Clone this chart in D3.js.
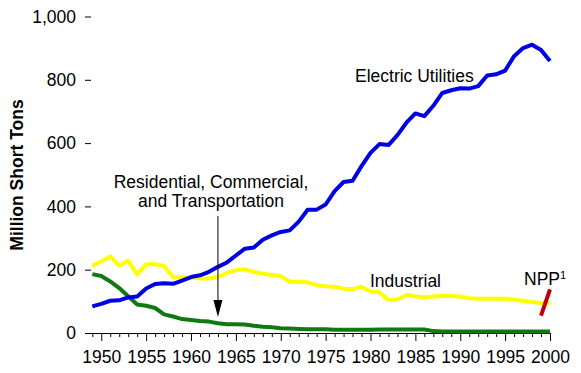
<!DOCTYPE html>
<html>
<head>
<meta charset="utf-8">
<script src="https://cdn.jsdelivr.net/npm/d3@7"></script>
<style>
  body { margin: 0; background: #fff; }
  svg { display: block; font-family: "Liberation Sans", Arial, sans-serif; }
</style>
</head>
<body>
<svg id="chart" width="581" height="373"></svg>
<script>
// years 1949 - 2000
var years = d3.range(1949, 2001);
var electric = [84, 91.9, 101.9, 103.3, 112.3, 115.2, 140.6, 154.9, 157.4, 155.3, 165.8, 176.7, 182.2, 193.2, 209.0, 223.0, 244.8, 266.5, 270.2, 294.8, 308.6, 319.2, 324.3, 351.8, 389.2, 389.8, 406.0, 448.4, 477.1, 481.2, 527.1, 569.3, 596.8, 593.7, 625.2, 664.4, 693.8, 685.1, 717.9, 758.4, 766.9, 773.5, 772.3, 779.9, 813.5, 817.3, 829.0, 874.7, 900.4, 910.9, 894.1, 859.3];
var industrial = [212, 226, 242, 213, 228, 185, 217, 217, 212, 177, 176, 175, 172, 172, 177, 190, 198, 201, 193, 187, 183, 180, 162, 162, 160, 151, 148, 146, 140, 138, 146, 131, 129, 104, 106, 120, 116, 113, 115, 118, 117, 115, 110, 108, 108, 108, 108, 105, 102, 98, 95, 95];
var rct = [186, 180, 163, 142, 116, 90, 86, 79, 59, 52, 44, 41, 38, 36, 31, 28, 28, 27, 23, 20, 18, 15, 14, 13, 12, 12, 12, 10, 10, 10, 10, 10, 11, 11, 11, 11, 11, 11, 6, 5, 5, 5, 5, 5, 5, 5, 5, 5, 5, 5, 5, 5];
var nppYears = [1999, 2000];
var npp = [55, 138];
var yTicks = [0, 200, 400, 600, 800, 1000];

var svg = d3.select("#chart");

var x = d3.scaleLinear().domain([1949, 2000]).range([92.3, 550]);
var y = d3.scaleLinear().domain([0, 1000]).range([333, 16.5]);

// x axis
var xAxis = d3.axisBottom(x)
    .tickValues(years)
    .tickSize(4)
    .tickPadding(14)
    .tickFormat(function(d) { return d % 5 === 0 ? d : ""; });

var gx = svg.append("g")
    .attr("transform", "translate(0,333)")
    .call(xAxis);
gx.select(".domain").attr("d", "M85,0.5H550.5").attr("stroke", "#000");
gx.selectAll(".tick line")
    .attr("y2", function(d) { return d % 5 === 0 ? 8 : 4; });
gx.selectAll(".tick text")
    .attr("font-size", "17.5px")
    .attr("font-family", "Liberation Sans, Arial, sans-serif")
    .attr("fill", "#000");

// y axis (tick dashes only)
var yAxis = d3.axisLeft(y)
    .tickValues(yTicks)
    .tickSize(6)
    .tickPadding(9)
    .tickFormat(d3.format(","));

var gy = svg.append("g")
    .attr("transform", "translate(91,0)")
    .call(yAxis);
gy.select(".domain").remove();
gy.selectAll(".tick text")
    .attr("font-size", "17.5px")
    .attr("font-family", "Liberation Sans, Arial, sans-serif")
    .attr("fill", "#000");

svg.append("text")
    .attr("transform", "translate(23,175) rotate(-90)")
    .attr("text-anchor", "middle")
    .attr("font-size", "17.5px")
    .attr("font-weight", "bold")
    .text("Million Short Tons");

// lines
var line = d3.line()
    .x(function(d) { return x(d[0]); })
    .y(function(d) { return y(d[1]); });

function drawSeries(xs, vals, color) {
    svg.append("path")
        .datum(d3.zip(xs, vals))
        .attr("fill", "none")
        .attr("stroke", color)
        .attr("stroke-width", 4)
        .attr("stroke-linejoin", "round")
        .attr("d", line);
}

drawSeries(years, rct, "#0f7a0f");
drawSeries(years, industrial, "#ffff00");
drawSeries(years, electric, "#0000e0");
drawSeries(nppYears, npp, "#c00000");

// labels
function label(txt, lx, ly, anchor) {
    return svg.append("text")
        .attr("x", lx).attr("y", ly)
        .attr("text-anchor", anchor || "start")
        .attr("font-size", "17.5px")
        .text(txt);
}

label("Electric Utilities", 355, 82);
label("Industrial", 370, 287);
var nppLabel = label("NPP", 524, 285);
nppLabel.append("tspan").attr("font-size", "11px").attr("dy", -6).text("1");
label("Residential, Commercial,", 211, 188, "middle");
label("and Transportation", 211, 206.5, "middle");

// arrow pointing down to the residential line
var ax = x(1963);
svg.append("line")
    .attr("x1", ax).attr("x2", ax)
    .attr("y1", 216).attr("y2", 302)
    .attr("stroke", "#000").attr("stroke-width", 1);
svg.append("path")
    .attr("d", "M" + (ax - 4.5) + ",300L" + (ax + 4.5) + ",300L" + ax + ",317Z")
    .attr("fill", "#000");
</script>
</body>
</html>
